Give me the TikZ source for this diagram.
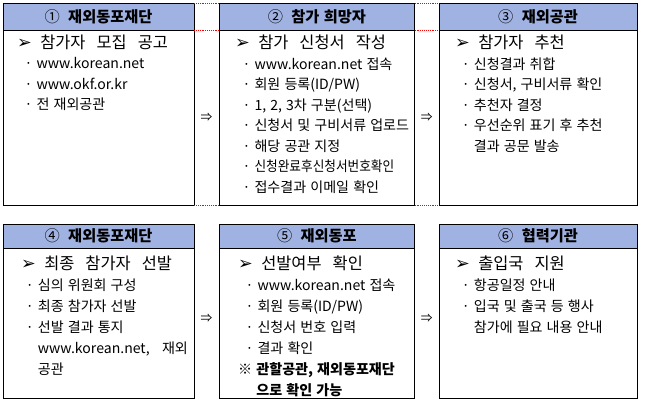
\documentclass[tikz,border=0pt]{standalone}
\usepackage{fontspec}
\usepackage{xcolor}
\usepackage{graphicx}
\setmainfont{Noto Sans CJK KR}[WordSpace=1.3]
\newfontfamily\ttlfont{Noto Sans CJK KR}[WordSpace=3]
\newfontfamily\dingfont{DejaVu Sans}
\usetikzlibrary{positioning, calc}
\definecolor{headblue}{RGB}{160,178,226}

\begin{document}
\begin{tikzpicture}[
  head/.style = {draw, line width=0.8pt, fill=headblue, rectangle, anchor=north west, inner sep=0pt, outer sep=0pt, font=\fontsize{13}{15}\selectfont\bfseries},
  frame/.style = {draw, line width=0.8pt, rectangle, inner sep=0pt, outer sep=0pt},
  ttl/.style = {inner sep=0pt, anchor=north west, font=\ttlfont\fontsize{14}{16}\selectfont},
  txt/.style = {align=left, inner sep=0pt, anchor=north west, font=\fontsize{12}{17.5}\selectfont},
  txtb/.style = {txt, font=\fontsize{12}{18}\selectfont},
  hidden/.style = {draw=red, densely dotted, line width=0.6pt},
  arr/.style = {inner sep=0pt, font=\fontsize{10}{12}\selectfont}
  ]
 \useasboundingbox (0,0) rectangle (19.35,-12.15);
 % Headers, first row
 \node[head, minimum width=5.73cm, minimum height=0.81cm] (h1) at (0.09,-0.09) {{\mdseries ①}\hspace{0.25cm}재외동포재단};
 \node[head, minimum width=5.87cm, minimum height=0.81cm] (h2) at (6.57,-0.09) {{\mdseries ②}\hspace{0.25cm}참가 희망자};
 \node[head, minimum width=5.94cm, minimum height=0.81cm] (h3) at (13.17,-0.09) {{\mdseries ③}\hspace{0.25cm}재외공관};
 % Frames, first row
 \node[frame, minimum width=5.73cm, minimum height=5.25cm, below=0pt of h1] (b1) {};
 \node[frame, minimum width=5.87cm, minimum height=5.25cm, below=0pt of h2] (b2) {};
 \node[frame, minimum width=5.94cm, minimum height=5.25cm, below=0pt of h3] (b3) {};
 % Headers, second row
 \node[head, minimum width=5.73cm, minimum height=0.72cm] (h4) at (0.09,-6.72) {{\mdseries ④}\hspace{0.25cm}재외동포재단};
 \node[head, minimum width=5.87cm, minimum height=0.72cm] (h5) at (6.57,-6.72) {{\mdseries ⑤}\hspace{0.25cm}재외동포};
 \node[head, minimum width=5.94cm, minimum height=0.72cm] (h6) at (13.17,-6.72) {{\mdseries ⑥}\hspace{0.25cm}협력기관};
 % Frames, second row
 \node[frame, minimum width=5.73cm, minimum height=4.50cm, below=0pt of h4] (b4) {};
 \node[frame, minimum width=5.87cm, minimum height=4.50cm, below=0pt of h5] (b5) {};
 \node[frame, minimum width=5.94cm, minimum height=4.50cm, below=0pt of h6] (b6) {};
 % Titles
 \node[ttl, below right=0.14cm and 0.42cm of b1.north west] (t1) {{\dingfont\fontsize{15}{16}\selectfont ➢}\hspace{0.25cm}참가자 모집 공고};
 \node[ttl, below right=0.14cm and 0.48cm of b2.north west] (t2) {{\dingfont\fontsize{15}{16}\selectfont ➢}\hspace{0.25cm}참가 신청서 작성};
 \node[ttl, below right=0.14cm and 0.48cm of b3.north west] (t3) {{\dingfont\fontsize{15}{16}\selectfont ➢}\hspace{0.25cm}참가자 추천};
 \node[ttl, below right=0.22cm and 0.54cm of b4.north west] (t4) {{\dingfont\fontsize{15}{16}\selectfont ➢}\hspace{0.25cm}최종 참가자 선발};
 \node[ttl, below right=0.22cm and 0.57cm of b5.north west] (t5) {{\dingfont\fontsize{15}{16}\selectfont ➢}\hspace{0.25cm}선발여부 확인};
 \node[ttl, below right=0.22cm and 0.48cm of b6.north west] (t6) {{\dingfont\fontsize{15}{16}\selectfont ➢}\hspace{0.25cm}출입국 지원};
 % Lists
 \node[txt, below right=0.22cm and 0.22cm of t1.south west] (l1)
  {· www.korean.net\\
  · www.okf.or.kr\\
  · 전 재외공관};
 \node[txt, below right=0.22cm and 0.22cm of t2.south west] (l2)
  {· www.korean.net 접속\\
  · 회원 등록(ID/PW)\\
  · 1, 2, 3차 구분(선택)\\
  · 신청서 및 구비서류 업로드\\
  · 해당 공관 지정\\
  · \scalebox{0.9}[1]{신청완료후신청서번호확인}\\
  · 접수결과 이메일 확인};
 \node[txt, below right=0.22cm and 0.2cm of t3.south west] (l3)
  {· 신청결과 취합\\
  · 신청서, 구비서류 확인\\
  · 추천자 결정\\
  · 우선순위 표기 후 추천\\
  \phantom{· }결과 공문 발송};
 \node[txtb, below right=0.24cm and 0.14cm of t4.south west] (l4)
  {· 심의 위원회 구성\\
  · 최종 참가자 선발\\
  · 선발 결과 통지\\
  \phantom{· }\makebox[4.5cm][l]{www.korean.net,\hfill 재외}\\
  \phantom{· }공관};
 \node[txtb, below right=0.24cm and 0.22cm of t5.south west] (l5)
  {· www.korean.net 접속\\
  · 회원 등록(ID/PW)\\
  · 신청서 번호 입력\\
  · 결과 확인};
 \node[txtb, below right=0.2cm and 0cm of l5.south west, xshift=-0.22cm] (n5)
  {※ \bfseries 관할공관, 재외동포재단\\
  \phantom{※ }\bfseries 으로 확인 가능};
 \node[txtb, below right=0.24cm and 0.2cm of t6.south west] (l6)
  {· 항공일정 안내\\
  · 입국 및 출국 등 행사\\
  \phantom{· }참가에 필요 내용 안내};
 % Arrows between boxes
 \node[arr] (a12) at ($(b1.east)!0.5!(b2.west)$) {⇒};
 \node[arr] (a23) at ($(b2.east)!0.5!(b3.west)$) {⇒};
 \node[arr, yshift=0.15cm] (a45) at ($(b4.east)!0.5!(b5.west)$) {⇒};
 \node[arr, yshift=0.15cm] (a56) at ($(b5.east)!0.5!(b6.west)$) {⇒};
 % Hidden cell borders
 \draw[hidden] (h1.north east) -- (h2.north west);
 \draw[hidden] (h1.south east) -- (h2.south west);
 \draw[hidden] (b1.south east) -- (b2.south west);
 \draw[hidden] (h2.north east) -- (h3.north west);
 \draw[hidden] (h2.south east) -- (h3.south west);
 \draw[hidden] (b2.south east) -- (b3.south west);
\end{tikzpicture}
\end{document}
